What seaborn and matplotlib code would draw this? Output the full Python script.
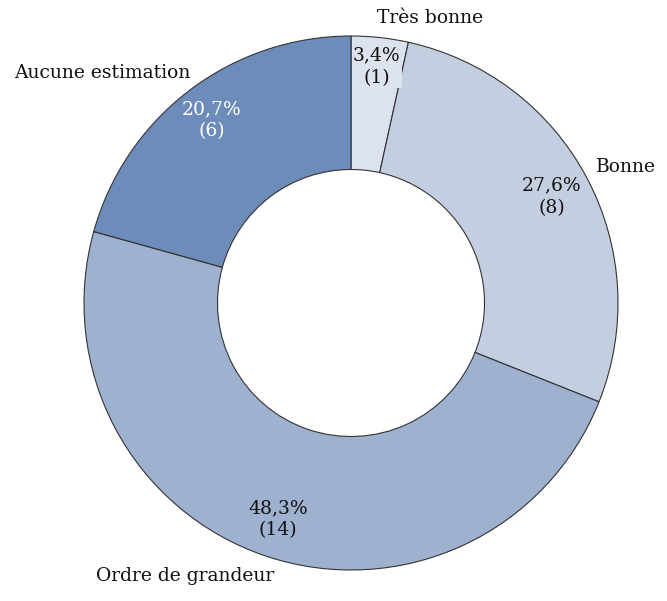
import matplotlib
matplotlib.use("Agg")
import matplotlib.pyplot as plt
import seaborn as sns
import numpy as np

categories = ["Très bonne", "Bonne", "Ordre de grandeur", "Aucune estimation"]
counts = [1, 8, 14, 6]
percent_labels = ["3,4%", "27,6%", "48,3%", "20,7%"]
colors = ["#dde3ee", "#c3cee0", "#9eb1cf", "#6d8cb9"]
text_colors = ["#111111", "#111111", "#111111", "#ffffff"]

sns.set_theme(style="white")
plt.rcParams['font.family'] = ['DejaVu Serif']

fig = plt.figure(figsize=(6.67, 6.01), dpi=100)
ax = fig.add_axes([84/667, 31/601, 534/667, 534/601])

wedges, texts = ax.pie(
    counts, colors=colors, startangle=90, counterclock=False,
    radius=1.0, wedgeprops=dict(width=0.5, edgecolor="#333333", linewidth=0.8),
    labels=categories, labeldistance=1.1,
)

total = sum(counts)
cum = np.cumsum([0] + counts)
pct_dist = [0.89, 0.85, 0.855, 0.86]
lab_pos = [(0.296, 1.067), (1.03, 0.509), (-0.622, -1.022), (-0.933, 0.861)]
for i, w in enumerate(wedges):
    mid = np.deg2rad(90 - (cum[i] + counts[i] / 2) / total * 360)
    r = pct_dist[i]
    ax.text(r * np.cos(mid), r * np.sin(mid), f"{percent_labels[i]}\n({counts[i]})",
            ha="center", va="center", fontsize=13.5, color=text_colors[i],
            linespacing=1.3,
            bbox=dict(facecolor=colors[i], edgecolor="none", pad=1.0))
    texts[i].set_position(lab_pos[i])
    texts[i].set_ha("center")
    texts[i].set_va("center")
    texts[i].set_fontsize(13.5)
    texts[i].set_color("#111111")

ax.set_xlim(-1, 1)
ax.set_ylim(-1, 1)
ax.set_aspect("equal")
ax.axis("off")

fig.savefig("out.png", dpi=100)
